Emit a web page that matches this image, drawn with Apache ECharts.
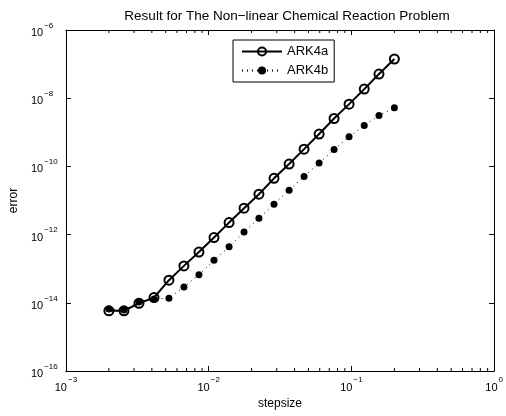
<!DOCTYPE html>
<html><head><meta charset="utf-8">
<script src="https://cdn.jsdelivr.net/npm/echarts@6/dist/echarts.min.js"></script>
<style>html,body{margin:0;padding:0;background:#fff}#c{width:506px;height:416px}</style>
</head><body><div id="c"></div>
<script>
var stepsize = [0.002, 0.00255, 0.00325, 0.00414, 0.00527, 0.00671, 0.00855, 0.0109, 0.0139, 0.0177,
                0.0225, 0.0287, 0.0366, 0.0466, 0.0594, 0.0756, 0.0963, 0.123, 0.156, 0.2];
var errA = [5.8e-15, 5.8e-15, 9.7e-15, 1.42e-14, 4.6e-14, 1.21e-13, 3.07e-13, 8.2e-13, 2.25e-12, 5.96e-12,
            1.53e-11, 4.47e-11, 1.17e-10, 3.21e-10, 8.9e-10, 2.54e-9, 6.7e-9, 1.85e-8, 5.1e-8, 1.41e-7];
var errB = [6.6e-15, 6.2e-15, 1.06e-14, 1.30e-14, 1.36e-14, 2.92e-14, 6.6e-14, 1.77e-13, 4.37e-13, 1.20e-12,
            3.03e-12, 7.8e-12, 2.01e-11, 5.05e-11, 1.25e-10, 3.13e-10, 7.4e-10, 1.58e-9, 3.11e-9, 5.24e-9];
var seriesNames = ['ARK4a', 'ARK4b'];
var xMinorTicks = [0.002, 0.003, 0.004, 0.005, 0.006, 0.007, 0.008, 0.009,
                   0.02, 0.03, 0.04, 0.05, 0.06, 0.07, 0.08, 0.09,
                   0.2, 0.3, 0.4, 0.5, 0.6, 0.7, 0.8, 0.9];
var titleText = 'Result for The Non\u2212linear Chemical Reaction Problem';
var xName = 'stepsize', yName = 'error';

function pairs(xs, ys) { return xs.map(function (x, i) { return [x, ys[i]]; }); }
function expLabel(v) {
  var e = Math.round(Math.log10(v));
  var s = e < 0 ? '\u2212' + (-e) : String(e);
  return '{b|10}{s|' + s + '}';
}
var FONT = 'Liberation Sans, Arial, sans-serif';
var rich = {
  b: { fontSize: 11, fontFamily: FONT, color: '#000', lineHeight: 17, verticalAlign: 'bottom' },
  s: { fontSize: 8, fontFamily: FONT, color: '#000', lineHeight: 17, verticalAlign: 'top', padding: [0, 0, 0, 1] }
};

var chart = echarts.init(document.getElementById('c'), null, { renderer: 'canvas' });
chart.setOption({
  animation: false,
  backgroundColor: '#fff',
  title: {
    text: titleText, left: 282, top: 4, textAlign: 'center',
    textStyle: { fontSize: 13.5, fontWeight: 'normal', color: '#000', fontFamily: FONT }
  },
  grid: { left: 62, right: 10, top: 30, bottom: 45 },
  legend: {
    left: 233, top: 40, orient: 'vertical',
    data: seriesNames,
    itemWidth: 40, itemHeight: 10, itemGap: 6,
    padding: [5, 6, 5, 8],
    borderColor: '#000', borderWidth: 1, backgroundColor: '#fff',
    textStyle: { fontSize: 13, color: '#000', fontFamily: FONT }
  },
  xAxis: [{
    type: 'log', logBase: 10, min: 0.001, max: 1, position: 'bottom',
    name: xName, nameLocation: 'middle', nameGap: 27,
    nameTextStyle: { fontSize: 12, color: '#000', fontFamily: FONT },
    axisLine: { show: true, lineStyle: { color: '#000', width: 1 } },
    axisTick: { show: true, inside: true, length: 5, lineStyle: { color: '#000' } },
    axisLabel: { show: true, formatter: expLabel, rich: rich, margin: 5 },
    splitLine: { show: false }
  }, {
    type: 'log', logBase: 10, min: 0.001, max: 1, position: 'top',
    axisLine: { show: true, lineStyle: { color: '#000', width: 1 } },
    axisTick: { show: true, inside: true, length: 5, lineStyle: { color: '#000' } },
    axisLabel: { show: false }, splitLine: { show: false }
  }],
  yAxis: [{
    type: 'log', logBase: 10, min: 1e-16, max: 1e-6, interval: 2, position: 'left',
    name: yName, nameLocation: 'middle', nameGap: 45, nameRotate: 90,
    nameTextStyle: { fontSize: 12, color: '#000', fontFamily: FONT },
    axisLine: { show: true, lineStyle: { color: '#000', width: 1 } },
    axisTick: { show: true, inside: true, length: 5, lineStyle: { color: '#000' } },
    axisLabel: { show: true, formatter: expLabel, rich: rich, margin: 35, align: 'left' },
    splitLine: { show: false }
  }, {
    type: 'log', logBase: 10, min: 1e-16, max: 1e-6, interval: 2, position: 'right',
    axisLine: { show: true, lineStyle: { color: '#000', width: 1 } },
    axisTick: { show: true, inside: true, length: 5, lineStyle: { color: '#000' } },
    axisLabel: { show: false }, splitLine: { show: false }
  }],
  series: [{
    name: seriesNames[0], type: 'line', data: pairs(stepsize, errA),
    symbol: 'circle', symbolSize: 9, showSymbol: true,
    lineStyle: { color: '#000', width: 2 },
    itemStyle: { color: 'rgba(0,0,0,0)', borderColor: '#000', borderWidth: 2 },
    z: 3
  }, {
    name: seriesNames[1], type: 'line', data: pairs(stepsize, errB),
    symbol: 'circle', symbolSize: 7, showSymbol: true,
    lineStyle: { color: '#000', width: 1, type: [1, 4] },
    itemStyle: { color: '#000', borderWidth: 0 },
    z: 2
  }, {
    type: 'custom', coordinateSystem: 'cartesian2d',
    data: xMinorTicks.map(function (v) { return [v, 1e-16]; }),
    encode: { x: 0, y: 1 },
    silent: true, clip: false, z: 5,
    renderItem: function (params, api) {
      var v = api.value(0);
      var pb = api.coord([v, 1e-16]);
      var pt = api.coord([v, 1e-6]);
      return {
        type: 'group', children: [
          { type: 'line', shape: { x1: pb[0], y1: pb[1], x2: pb[0], y2: pb[1] - 3 }, style: { stroke: '#000', lineWidth: 1 } },
          { type: 'line', shape: { x1: pt[0], y1: pt[1], x2: pt[0], y2: pt[1] + 3 }, style: { stroke: '#000', lineWidth: 1 } }
        ]
      };
    }
  }]
});
</script></body></html>
